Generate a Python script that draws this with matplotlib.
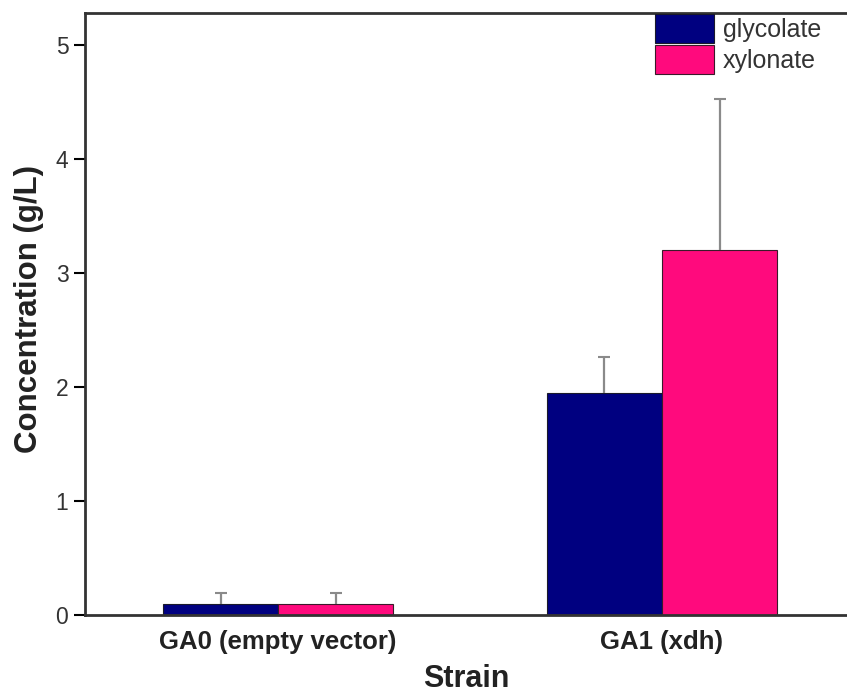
import matplotlib
matplotlib.use('Agg')
import matplotlib.pyplot as plt
import numpy as np

plt.rcParams['font.family'] = ['Liberation Sans', 'DejaVu Sans']

# data
strains = ['GA0 (empty vector)', 'GA1 (xdh)']
glycolate = [0.10, 1.95]
glycolate_err = [0.09, 0.31]
xylonate = [0.10, 3.20]
xylonate_err = [0.09, 1.33]
yticks = [0, 1, 2, 3, 4, 5]

fig = plt.figure(figsize=(8.47, 6.97), dpi=100)
ax = fig.add_axes([0.1004, 0.1176, 0.8996, 0.8637])

x = np.arange(len(strains))
w = 0.3

ax.bar(x - w / 2, glycolate, w, color='#000080', edgecolor='#1a1a2a', linewidth=0.8,
       label='glycolate')
ax.bar(x + w / 2, xylonate, w, color='#ff0a7d', edgecolor='#3a1a2a', linewidth=0.8,
       label='xylonate')

# upper-only error bars, cap only at the top
for pos, val, err in [(x - w / 2, glycolate, glycolate_err), (x + w / 2, xylonate, xylonate_err)]:
    val = np.array(val)
    err = np.array(err)
    ax.errorbar(pos, val, yerr=[np.zeros(len(val)), err], fmt='none',
                ecolor='#8a8a8a', elinewidth=1.6, capsize=0)
    ax.plot(pos, val + err, ls='none', marker='_', markersize=9,
            markeredgewidth=1.5, color='#8a8a8a')

ax.set_xlim(-0.503, 1.482)
ax.set_ylim(0, 5.28)
ax.set_yticks(yticks)
ax.set_xticks(x)
ax.set_xticklabels(strains, fontsize=18.5, fontweight='bold', color='#222222')
ax.tick_params(axis='x', length=0, pad=11)
ax.tick_params(axis='y', direction='out', length=8, width=1.5, labelsize=16.5,
               labelcolor='#333333', pad=4)

for s in ['left', 'bottom', 'top']:
    ax.spines[s].set_linewidth(2)
    ax.spines[s].set_color('#333333')
ax.spines['right'].set_visible(False)

ax.set_ylabel('Concentration (g/L)', fontsize=22.5, fontweight='bold', color='#222222')
ax.yaxis.set_label_coords(-0.054, 0.508)
ax.set_xlabel('Strain', fontsize=22, fontweight='bold', color='#222222', labelpad=7)

leg = ax.legend(loc='upper left', bbox_to_anchor=(655 / 847, 1 - 14 / 697),
                bbox_transform=fig.transFigure, frameon=False, fontsize=18,
                handlelength=2.35, handleheight=1.4, handletextpad=0.35,
                labelspacing=0.1, borderpad=0.0, borderaxespad=0)
for t in leg.get_texts():
    t.set_color('#333333')

fig.savefig('out.png', dpi=100)
